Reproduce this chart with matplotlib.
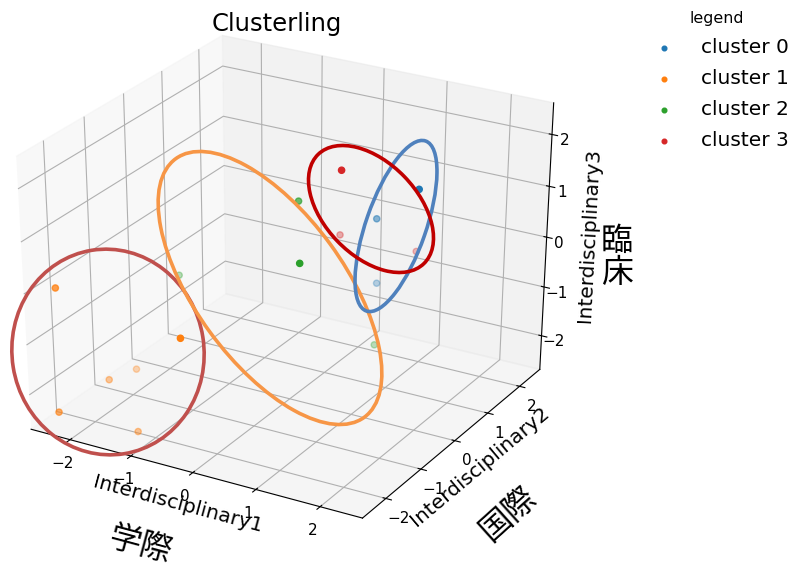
import matplotlib.pyplot as plt
from matplotlib.patches import Ellipse

# cluster members (x, y, z)
c0_x = [1.42, 0.74, 0.88]
c0_y = [1.09, 1.14, 0.91]
c0_z = [1.34, 0.56, -0.56]

c1_x = [-2.64, -0.74, -1.68, -1.88, -2.17, -1.29]
c1_y = [-1.9, -1.71, -1.39, -1.79, -2.64, -2.0]
c1_z = [-0.26, -0.78, -1.86, -1.92, -2.2, -2.67]

c2_x = [-0.28, 0.21, -1.66, 1.0]
c2_y = [0.73, -0.09, -0.24, 0.65]
c2_z = [0.82, 0.14, -0.56, -1.63]

c3_x = [0.2, 0.33, 1.31]
c3_y = [1.09, 0.83, 1.26]
c3_z = [1.38, 0.28, 0.02]

labels = ["cluster 0", "cluster 1", "cluster 2", "cluster 3"]

# hand-drawn ellipses (centre px from top-left, major px, minor px, angle deg, colour)
marks = [
    ((108, 352), 206, 192, 99, "#C0504D"),
    ((270, 288), 320, 149, -53.9, "#F79646"),
    ((396, 226), 180, 60, 70.8, "#4F81BD"),
    ((371, 209), 152, 93, -46, "#C00000"),
]

W, H, DPI = 794, 573, 100
fig = plt.figure(figsize=(W / DPI, H / DPI), dpi=DPI)
ax = fig.add_axes([-0.051, 0.064, 0.810, 0.913], projection="3d")
ax.set_box_aspect((1, 1, 1))
# old-style 3d axes: stretch to fill the rectangle instead of staying square
ax.apply_aspect = lambda position=None: None

for xs, ys, zs, lab in zip([c0_x, c1_x, c2_x, c3_x], [c0_y, c1_y, c2_y, c3_y],
                           [c0_z, c1_z, c2_z, c3_z], labels):
    ax.scatter(xs, ys, zs, s=20, label=lab)

ax.set_xlim(-2.65, 2.65)
ax.set_ylim(-2.65, 2.65)
ax.set_zlim(-2.7, 2.6)
for a in (ax.xaxis, ax.yaxis, ax.zaxis):
    a.set_ticks([-2, -1, 0, 1, 2])
ax.tick_params(labelsize=11)
ax.xaxis.set_tick_params(pad=0.5)
ax.yaxis.set_tick_params(pad=0)
ax.zaxis.set_tick_params(pad=-2.6)
ax.set_xlabel("Interdisciplinary1", fontsize=14.5, labelpad=-4.5)
ax.set_ylabel("Interdisciplinary2", fontsize=14.5, labelpad=-4.5)
ax.set_zlabel("Interdisciplinary3", fontsize=14.5, labelpad=-2.5)
fig.text(277 / W, 1 - 31 / H, "Clusterling", fontsize=17.5, ha="center", va="baseline")

ax.legend(title="legend", loc="upper left", bbox_to_anchor=(626 / W, 1 + 7 / H),
          bbox_transform=fig.transFigure, frameon=False, fontsize=14.5,
          title_fontsize=11.4, labelspacing=0.6, markerscale=0.75)

cjk = ["Noto Sans CJK JP", "DejaVu Sans"]
fig.text(140 / W, 1 - 545 / H, "学際", family=cjk, fontsize=23, rotation=-15,
         ha="center", va="center")
fig.text(508 / W, 1 - 514 / H, "国際", family=cjk, fontsize=23, rotation=42,
         ha="center", va="center")
fig.text(617 / W, 1 - 257 / H, "臨\n床", family=cjk, fontsize=23,
         ha="center", va="center", linespacing=1.0)

for (u, v), w, h, ang, col in marks:
    e = Ellipse((u / DPI, (H - v) / DPI), w / DPI, h / DPI, angle=ang,
                transform=fig.dpi_scale_trans, fill=False, edgecolor=col, lw=2.6)
    fig.add_artist(e)

fig.savefig("out.png", dpi=DPI)
